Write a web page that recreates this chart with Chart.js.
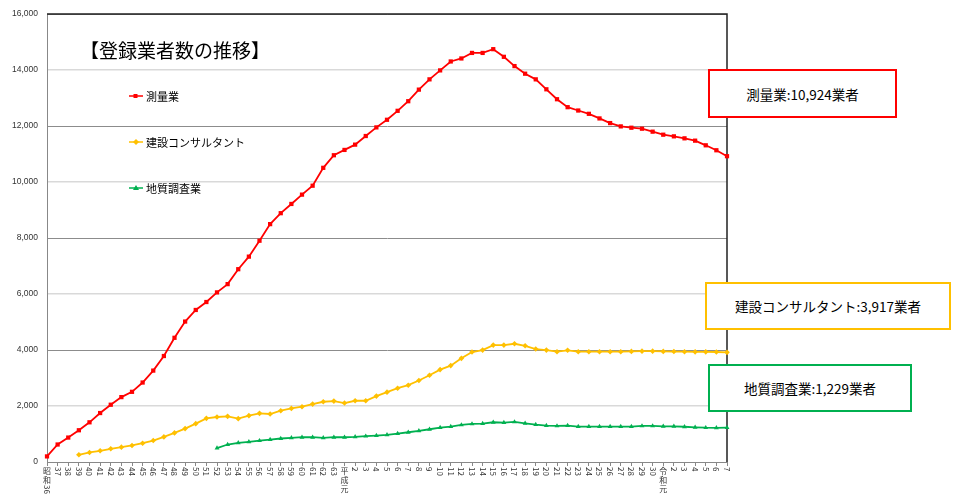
<!DOCTYPE html>
<html lang="ja">
<head>
<meta charset="utf-8">
<script src="https://cdn.jsdelivr.net/npm/chart.js@4.4.1/dist/chart.umd.min.js"></script>
<style>
  body { margin: 0; background: #fff; }
  #wrap { position: relative; width: 955px; height: 496px; font-family: "Noto Sans CJK JP", sans-serif; }
  canvas { position: absolute; left: 0; top: 0; }
  .title { position: absolute; left: 80px; top: 36px; font-size: 19px; color: #000; white-space: nowrap; }
  .leg { position: absolute; left: 146px; font-size: 11px; color: #000; white-space: nowrap; }
  .box { position: absolute; box-sizing: border-box; border: 2px solid; background: #fff;
         display: flex; align-items: center; justify-content: center; font-size: 13.5px; color: #000; white-space: nowrap; }
</style>
</head>
<body>
<div id="wrap">
  <canvas id="chart" width="955" height="496"></canvas>
  <div class="title">【登録業者数の推移】</div>
  <div class="leg" style="top:88px">測量業</div>
  <div class="leg" style="top:134px">建設コンサルタント</div>
  <div class="leg" style="top:180px">地質調査業</div>
  <div class="box" style="left:708px;top:69px;width:189px;height:49px;border-color:#ff0000">測量業:10,924業者</div>
  <div class="box" style="left:705px;top:282px;width:246px;height:48px;border-color:#ffc000">建設コンサルタント:3,917業者</div>
  <div class="box" style="left:708px;top:364px;width:204px;height:48px;border-color:#00b050">地質調査業:1,229業者</div>
</div>
<script>
// 年度ラベル（昭和36〜令和7）
const years = [
  "昭和36","37","38","39","40","41","42","43","44","45","46","47","48","49","50",
  "51","52","53","54","55","56","57","58","59","60","61","62","63",
  "平成元","2","3","4","5","6","7","8","9","10","11","12","13","14","15",
  "16","17","18","19","20","21","22","23","24","25","26","27","28","29","30",
  "令和元","2","3","4","5","6","7"
];

const sokuryo = [200,625,873,1134,1418,1749,2046,2318,2507,2839,3265,3786,4437,5017,5431,5715,
  6059,6354,6887,7336,7905,8497,8888,9218,9551,9870,10509,10958,11148,11337,11645,11953,
  12225,12545,12888,13302,13669,13989,14308,14415,14613,14613,14747,14474,14143,13871,13669,
  13314,12959,12675,12556,12438,12273,12107,11989,11941,11906,11800,11692,11633,11562,11479,
  11313,11136,10924];

const kensetsu = [null,null,null,258,341,400,472,530,590,672,767,897,1039,1193,1370,1560,1608,
  1631,1548,1655,1737,1715,1833,1915,1975,2069,2152,2176,2105,2188,2188,2354,2495,2637,2744,
  2910,3100,3300,3443,3703,3928,3998,4176,4176,4223,4152,4034,3998,3940,3990,3940,3940,3940,
  3940,3940,3950,3960,3960,3950,3945,3940,3935,3935,3930,3917];

const chishitsu = [null,null,null,null,null,null,null,null,null,null,null,null,null,null,null,null,
  494,625,684,720,761,803,839,862,885,885,862,885,885,897,921,945,969,1016,1063,1111,1170,
  1229,1264,1324,1360,1370,1419,1406,1430,1382,1336,1300,1288,1300,1264,1264,1264,1264,1264,
  1264,1288,1288,1276,1276,1260,1240,1225,1220,1229];

const RED = "#ff0000";
const YELLOW = "#ffc000";
const GREEN = "#00b050";

// 縦書きの年度ラベル（漢字は縦積み、数字は90度回転）
const yearLabels = {
  id: "yearLabels",
  afterDraw(chart) {
    const { ctx, chartArea } = chart;
    const x = chart.scales.x;
    ctx.save();
    ctx.fillStyle = "#333";
    ctx.font = '8px "Noto Sans CJK JP", sans-serif';
    years.forEach((lab, i) => {
      const px = x.getPixelForValue(i);
      let py = chartArea.bottom + 5;
      lab.match(/\d+|\D/g).forEach((p) => {
        if (/\d/.test(p)) {
          ctx.save();
          ctx.translate(px, py);
          ctx.rotate(Math.PI / 2);
          ctx.textAlign = "left";
          ctx.textBaseline = "middle";
          ctx.fillText(p, 0, 0);
          ctx.restore();
          py += ctx.measureText(p).width + 1;
        } else {
          ctx.textAlign = "center";
          ctx.textBaseline = "top";
          ctx.fillText(p, px, py);
          py += 9;
        }
      });
    });
    ctx.restore();
  }
};

// 枠線と凡例マーカー
const frame = {
  id: "frame",
  beforeDatasetsDraw(chart) {
    const { ctx, chartArea: a } = chart;
    ctx.save();
    ctx.strokeStyle = "#222";
    ctx.lineWidth = 1.5;
    ctx.beginPath();
    ctx.moveTo(a.left, a.top);
    ctx.lineTo(a.right, a.top);
    ctx.lineTo(a.right, a.bottom);
    ctx.stroke();
    ctx.restore();
  },
  afterDraw(chart) {
    const ctx = chart.ctx;
    const items = [[96, RED, "rect"], [142, YELLOW, "diamond"], [188, GREEN, "tri"]];
    ctx.save();
    items.forEach(([y, c, shape]) => {
      ctx.strokeStyle = c;
      ctx.fillStyle = c;
      ctx.lineWidth = 1.5;
      ctx.beginPath();
      ctx.moveTo(129, y);
      ctx.lineTo(143, y);
      ctx.stroke();
      ctx.beginPath();
      if (shape == "rect") ctx.rect(133.5, y - 2, 4, 4);
      if (shape == "diamond") { ctx.moveTo(136, y - 3); ctx.lineTo(139, y); ctx.lineTo(136, y + 3); ctx.lineTo(133, y); }
      if (shape == "tri") { ctx.moveTo(136, y - 3); ctx.lineTo(139, y + 2); ctx.lineTo(133, y + 2); }
      ctx.fill();
    });
    ctx.restore();
  }
};

new Chart(document.getElementById("chart"), {
  type: "line",
  data: {
    labels: years,
    datasets: [
      { label: "測量業", data: sokuryo, borderColor: RED, backgroundColor: RED,
        borderWidth: 1.8, pointStyle: "rect", pointRadius: 3, pointBorderWidth: 0 },
      { label: "建設コンサルタント", data: kensetsu, borderColor: YELLOW, backgroundColor: YELLOW,
        borderWidth: 1.8, pointStyle: "rectRot", pointRadius: 2.8, pointBorderWidth: 0 },
      { label: "地質調査業", data: chishitsu, borderColor: GREEN, backgroundColor: GREEN,
        borderWidth: 1.8, pointStyle: "triangle", pointRadius: 2.8, pointBorderWidth: 0 }
    ]
  },
  options: {
    responsive: false,
    animation: false,
    devicePixelRatio: 1,
    layout: { padding: { left: 0, top: 9, right: 228, bottom: 0 } },
    plugins: {
      legend: { display: false },
      tooltip: { enabled: false },
      title: { display: false }
    },
    scales: {
      x: {
        afterFit: (s) => { s.height = 34; },
        border: { color: "#888", width: 1 },
        grid: { drawOnChartArea: false, drawTicks: true, tickLength: 4, color: "#888" },
        ticks: { autoSkip: false, maxRotation: 0, callback: () => "" }
      },
      y: {
        min: 0,
        max: 16000,
        afterFit: (s) => { s.width = 47; },
        border: { color: "#888", width: 1 },
        grid: {
          drawTicks: false,
          color: (c) => (c.tick.value % 4000 === 0 ? "#8c8c8c" : "#d9d9d9"),
          lineWidth: (c) => (c.tick.value % 4000 === 0 ? 1 : 1.5)
        },
        ticks: {
          stepSize: 2000,
          padding: 9,
          color: "#333",
          font: { family: '"Liberation Sans", Arial, sans-serif', size: 8.5 },
          callback: (v) => v.toLocaleString("en-US")
        }
      }
    }
  },
  plugins: [yearLabels, frame]
});
</script>
</body>
</html>
